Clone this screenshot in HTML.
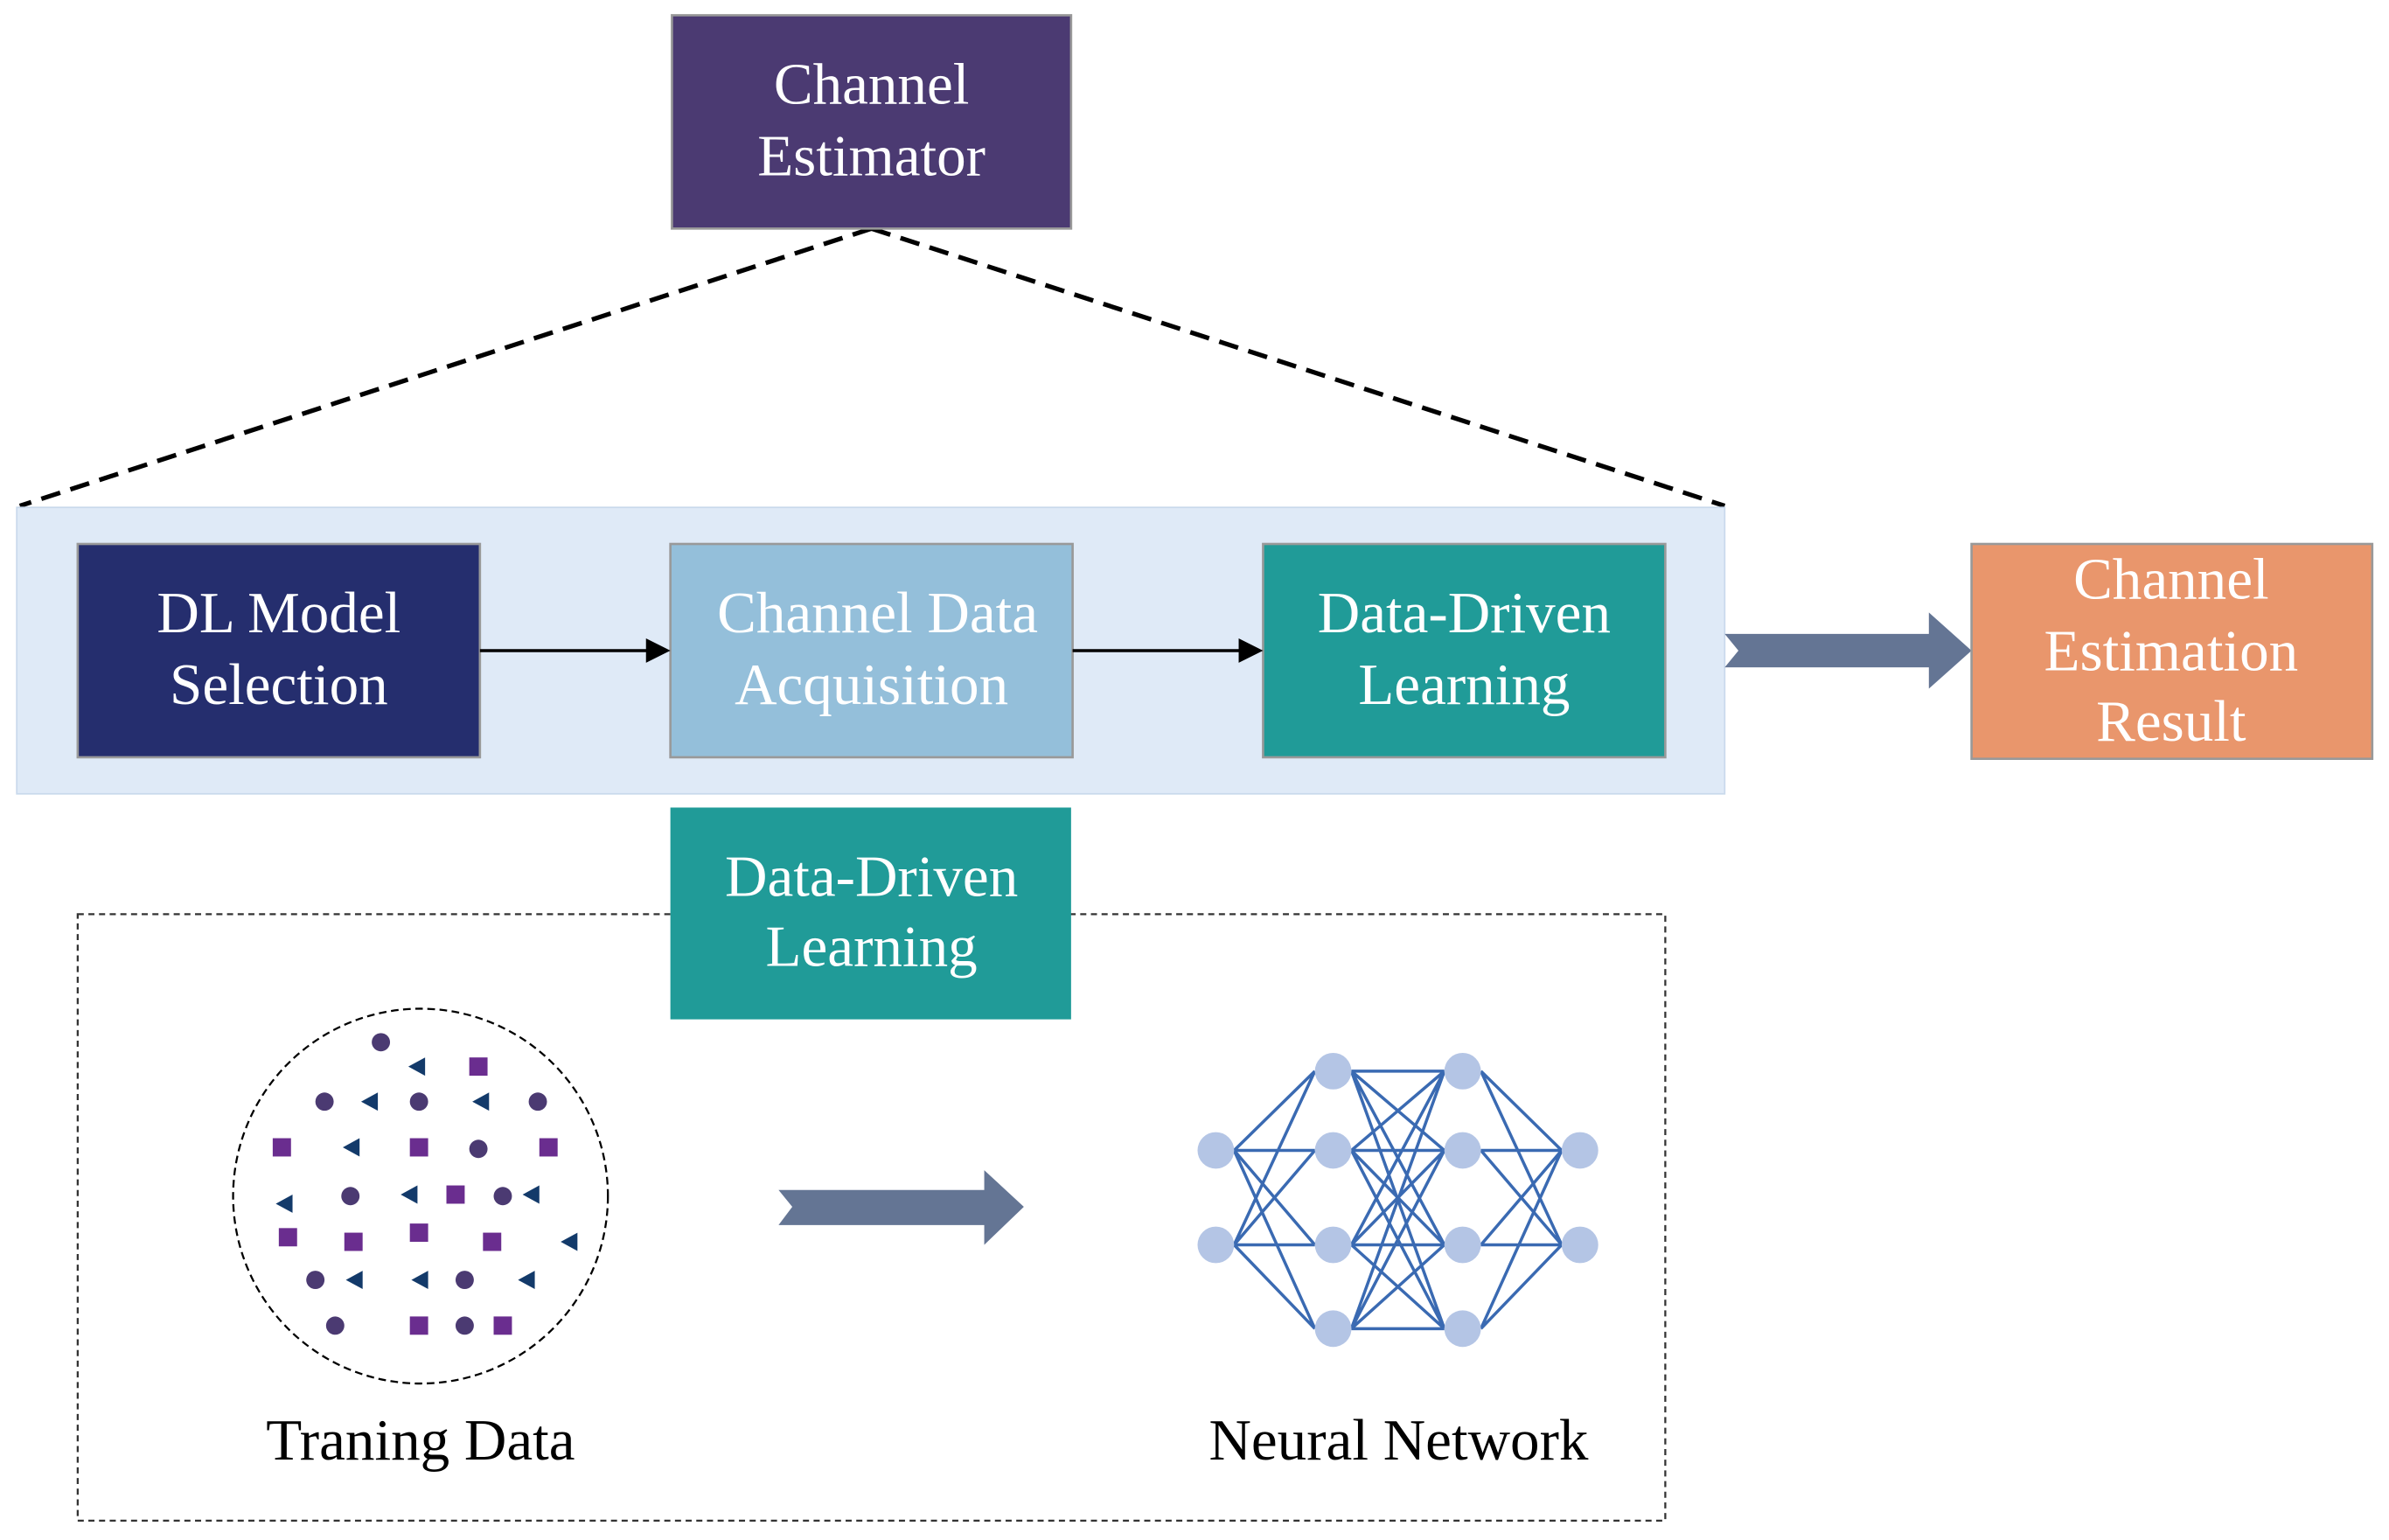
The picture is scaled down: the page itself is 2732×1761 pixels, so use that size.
<!DOCTYPE html>
<html><head><meta charset="utf-8"><style>
html,body{margin:0;padding:0;background:#fff;}
svg{display:block;}
text{font-family:"Liberation Serif",serif;}
</style></head><body>
<svg width="2732" height="1761" viewBox="0 0 1568 1010.7" xmlns="http://www.w3.org/2000/svg">
<rect x="0" y="0" width="1568" height="1011" fill="#fff"/>
<line x1="572" y1="150" x2="13" y2="332" stroke="#000" stroke-width="3" stroke-dasharray="13,7"/>
<line x1="572" y1="150" x2="1132" y2="332" stroke="#000" stroke-width="3" stroke-dasharray="13,7"/>
<rect x="441" y="10" width="262" height="140" fill="#4b3a72" stroke="#999" stroke-width="1.5"/>
<text x="572" y="68" font-size="38.5" fill="#fff" text-anchor="middle">Channel</text>
<text x="572" y="115" font-size="38.5" fill="#fff" text-anchor="middle">Estimator</text>
<rect x="11" y="333" width="1121" height="188" fill="#dfeaf7" stroke="#c9d9ec" stroke-width="1"/>
<rect x="51" y="357" width="264" height="140" fill="#252e6e" stroke="#999" stroke-width="1.5"/>
<text x="183" y="415" font-size="38.5" fill="#fff" text-anchor="middle">DL Model</text>
<text x="183" y="462" font-size="38.5" fill="#fff" text-anchor="middle">Selection</text>
<rect x="440" y="357" width="264" height="140" fill="#94bfda" stroke="#999" stroke-width="1.5"/>
<text x="576" y="415" font-size="38.5" fill="#fff" text-anchor="middle">Channel Data</text>
<text x="572" y="462" font-size="38.5" fill="#fff" text-anchor="middle">Acquisition</text>
<rect x="829" y="357" width="264" height="140" fill="#209b98" stroke="#999" stroke-width="1.5"/>
<text x="961" y="415" font-size="38.5" fill="#fff" text-anchor="middle">Data-Driven</text>
<text x="961" y="462" font-size="38.5" fill="#fff" text-anchor="middle">Learning</text>
<line x1="315" y1="427" x2="428" y2="427" stroke="#000" stroke-width="2"/>
<polygon points="440,427 424,419 424,435" fill="#000"/>
<line x1="704" y1="427" x2="817" y2="427" stroke="#000" stroke-width="2"/>
<polygon points="829,427 813,419 813,435" fill="#000"/>
<polygon points="1132,416 1266,416 1266,402 1294,427 1266,452 1266,438 1132,438 1141,427" fill="#647594"/>
<rect x="1294" y="357" width="263" height="141" fill="#e9966c" stroke="#999" stroke-width="1.5"/>
<text x="1425" y="393" font-size="38.5" fill="#fff" text-anchor="middle">Channel</text>
<text x="1425" y="440" font-size="38.5" fill="#fff" text-anchor="middle">Estimation</text>
<text x="1425" y="486" font-size="38.5" fill="#fff" text-anchor="middle">Result</text>
<rect x="51" y="600" width="1042" height="398" fill="none" stroke="#333" stroke-width="1.3" stroke-dasharray="4,3"/>
<rect x="440" y="530" width="263" height="139" fill="#209b98"/>
<text x="572" y="588" font-size="38.5" fill="#fff" text-anchor="middle">Data-Driven</text>
<text x="572" y="634" font-size="38.5" fill="#fff" text-anchor="middle">Learning</text>
<circle cx="276" cy="785" r="123" fill="none" stroke="#000" stroke-width="1.3" stroke-dasharray="5,3"/>
<g fill="#4b3a72">
<circle cx="250" cy="684" r="6"/><circle cx="213" cy="723" r="6"/><circle cx="275" cy="723" r="6"/><circle cx="353" cy="723" r="6"/>
<circle cx="314" cy="754" r="6"/><circle cx="230" cy="785" r="6"/><circle cx="330" cy="785" r="6"/><circle cx="207" cy="840" r="6"/>
<circle cx="305" cy="840" r="6"/><circle cx="220" cy="870" r="6"/><circle cx="305" cy="870" r="6"/>
</g>
<g fill="#6a2d8f">
<rect x="308" y="694" width="12" height="12"/><rect x="179" y="747" width="12" height="12"/><rect x="269" y="747" width="12" height="12"/>
<rect x="354" y="747" width="12" height="12"/><rect x="293" y="778" width="12" height="12"/><rect x="183" y="806" width="12" height="12"/>
<rect x="226" y="809" width="12" height="12"/><rect x="269" y="803" width="12" height="12"/><rect x="317" y="809" width="12" height="12"/>
<rect x="269" y="864" width="12" height="12"/><rect x="324" y="864" width="12" height="12"/>
</g>
<g fill="#133a6a">
<polygon points="268,700 279,694 279,706"/><polygon points="237,723 248,717 248,729"/><polygon points="310,723 321,717 321,729"/>
<polygon points="225,753 236,747 236,759"/><polygon points="263,784 274,778 274,790"/><polygon points="343,784 354,778 354,790"/>
<polygon points="181,790 192,784 192,796"/><polygon points="368,815 379,809 379,821"/><polygon points="227,840 238,834 238,846"/>
<polygon points="270,840 281,834 281,846"/><polygon points="340,840 351,834 351,846"/>
</g>
<polygon points="511,781 646,781 646,768 672,792 646,817 646,804 511,804 520,792" fill="#647594"/>
<g stroke="#3a6ab2" stroke-width="2">
<path d="M810,755L863,703M810,755L863,755M810,755L863,817M810,755L863,872M810,817L863,703M810,817L863,755M810,817L863,817M810,817L863,872"/>
<path d="M887,703L948,703M887,703L948,755M887,703L948,817M887,703L948,872
M887,755L948,703M887,755L948,755M887,755L948,817M887,755L948,872
M887,817L948,703M887,817L948,755M887,817L948,817M887,817L948,872
M887,872L948,703M887,872L948,755M887,872L948,817M887,872L948,872"/>
<path d="M972,703L1025,755M972,755L1025,755M972,817L1025,755M972,872L1025,755M972,703L1025,817M972,755L1025,817M972,817L1025,817M972,872L1025,817"/>
</g>
<g fill="#b4c5e5">
<circle cx="798" cy="755" r="12"/><circle cx="798" cy="817" r="12"/>
<circle cx="875" cy="703" r="12"/><circle cx="875" cy="755" r="12"/><circle cx="875" cy="817" r="12"/><circle cx="875" cy="872" r="12"/>
<circle cx="960" cy="703" r="12"/><circle cx="960" cy="755" r="12"/><circle cx="960" cy="817" r="12"/><circle cx="960" cy="872" r="12"/>
<circle cx="1037" cy="755" r="12"/><circle cx="1037" cy="817" r="12"/>
</g>
<text x="276" y="958" font-size="38.5" fill="#000" text-anchor="middle">Traning Data</text>
<text x="918" y="958" font-size="38.5" fill="#000" text-anchor="middle">Neural Network</text>
</svg>
</body></html>
